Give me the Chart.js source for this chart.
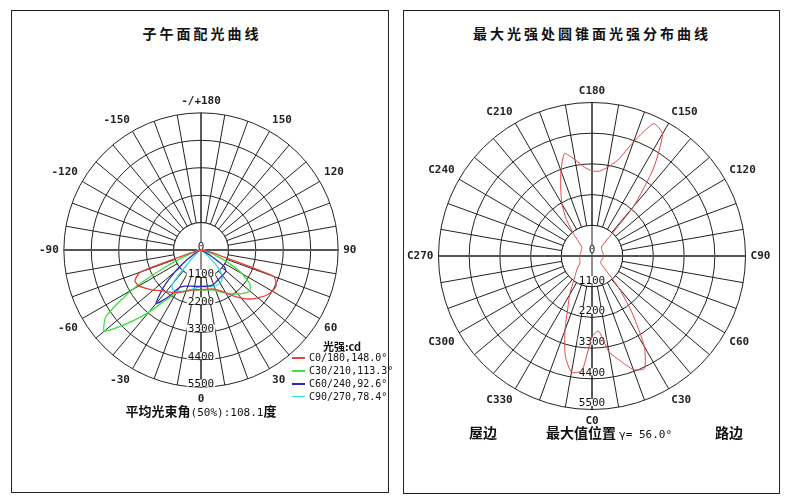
<!DOCTYPE html>
<html><head><meta charset="utf-8">
<script src="https://cdn.jsdelivr.net/npm/chart.js@4.4.1/dist/chart.umd.min.js"></script>
<style>
html,body{margin:0;padding:0;background:#fff;}
body{width:790px;height:503px;position:relative;overflow:hidden;font-family:'Noto Sans CJK SC','DejaVu Sans',sans-serif;color:#111;}
.panel{position:absolute;border:1px solid #222;box-sizing:border-box;}
.title{position:absolute;font-size:14px;font-weight:bold;letter-spacing:3px;white-space:nowrap;transform:translate(-50%,-50%);}
.box{position:absolute;}
.cap{position:absolute;white-space:nowrap;transform:translate(-50%,-50%);font-size:13px;font-weight:bold;}
.mono{font-family:'DejaVu Sans Mono',monospace;font-weight:normal;}
#legend{position:absolute;left:292px;top:340px;font-family:'DejaVu Sans Mono',monospace;font-size:10px;color:#111;}
#legend .hd{margin-left:31px;height:12px;line-height:12px;font-weight:bold;font-size:11px;font-family:'Noto Sans CJK SC','DejaVu Sans Mono',sans-serif;}
#legend .row{height:12.9px;line-height:12.9px;white-space:nowrap;}
#legend .sw{display:inline-block;width:13px;height:1.5px;vertical-align:middle;margin-right:4px;}
</style></head><body>
<div class="panel" style="left:11px;top:10px;width:378px;height:483px"></div>
<div class="panel" style="left:403px;top:10px;width:377px;height:484px"></div>
<div class="box" style="left:36px;top:88px;width:325px;height:325px"><canvas id="c1"></canvas></div>
<div class="box" style="left:404px;top:71px;width:370px;height:370px"><canvas id="c2"></canvas></div>
<div class="title" style="left:202px;top:33px">子午面配光曲线</div>
<div class="title" style="left:592px;top:33px">最大光强处圆锥面光强分布曲线</div>
<div class="cap" style="left:201px;top:410px">平均光束角<span class="mono" style="font-size:11px">(50%):108.1</span>度</div>
<div class="cap" style="left:483px;top:432px;font-size:14px">屋边</div>
<div class="cap" style="left:609px;top:432px;font-size:14px">最大值位置 <span class="mono" style="font-size:11px">γ= 56.0°</span></div>
<div class="cap" style="left:729px;top:432px;font-size:14px">路边</div>
<div id="legend"><div class="hd">光强:cd</div></div>
<script>
// ---------- data ----------
const radialTicks = [0, 1100, 2200, 3300, 4400, 5500];
const meridianAngleTicks = ['-/+180','150','120','90','60','30','0','-30','-60','-90','-120','-150'];
const coneAngleTicks = ['C180','C150','C120','C90','C60','C30','C0','C330','C300','C270','C240','C210'];

// gamma angles (deg) of the meridian curves, lower hemisphere
const gammaAngles = [-90,-85,-80,-75,-70,-65,-60,-55,-50,-45,-40,-35,-30,-25,-20,-15,-10,-5,0,5,10,15,20,25,30,35,40,45,50,55,60,65,70,75,80,85,90];
const seriesNames = ['C0/180,148.0°','C30/210,113.3°','C60/240,92.6°','C90/270,78.4°'];
const seriesColors = ['#e8403c','#3fe03f','#2a2ab4','#30d8e8'];
const c0_180   = [0,40,100,300,2600,2920,2880,2680,2500,2300,2180,2070,1970,1860,1760,1680,1620,1600,1590,1590,1600,1620,1680,1800,1980,2250,2520,2780,2980,3180,3300,3330,3100,600,200,80,0];
const c30_210  = [0,30,80,200,500,1450,3200,4650,5060,4150,3250,2450,2000,1850,1750,1680,1640,1610,1600,1600,1620,1660,1740,1850,2000,2150,2300,2450,2550,2400,1900,1200,600,250,100,40,0];
const c60_240  = [0,0,30,60,100,150,300,700,1350,2150,2800,2300,1750,1600,1540,1500,1480,1470,1460,1460,1470,1480,1470,1420,1380,1350,1330,1330,1300,1100,400,150,50,20,0,0,0];
const c90_270  = [0,0,0,0,20,40,80,150,300,700,1800,1950,1900,1830,1750,1650,1560,1500,1470,1480,1500,1520,1540,1550,1530,1450,1300,900,300,100,40,10,0,0,0,0,0];

// cone at gamma = 56 deg : C angle -> intensity
const cAngles = [0,5,10,15,20,25,30,35,40,45,50,55,60,65,70,75,80,85,90,95,100,105,110,115,120,125,130,135,140,145,150,155,160,165,170,175,180,185,190,195,200,205,210,215,220,225,230,235,240,245,250,255,260,265,270,275,280,285,290,295,300,305,310,315,320,325,330,335,340,345,350,355];
const coneIntensity = [2900,2700,3480,3880,4330,4450,3750,2540,1500,650,420,380,370,370,380,390,400,410,410,410,410,410,400,400,410,420,440,500,2300,3850,5050,5230,4350,3550,3230,3050,3050,3200,3500,3800,3250,2650,2150,1600,1000,600,470,450,440,430,420,420,420,420,430,440,450,455,460,480,500,560,680,800,950,1200,1600,2050,2830,3700,4230,4120];

// ---------- build radar categories (clockwise from top, 5 deg steps) ----------
const meridianLabels = [], coneLabels = [];
for (let i = 0; i < 72; i++) {
  meridianLabels.push(180 - 5 * i);
  coneLabels.push(((180 - 5 * i) % 360 + 360) % 360);
}
function mapMeridian(arr) {
  return meridianLabels.map(a => { const k = gammaAngles.indexOf(a); return k >= 0 ? arr[k] : null; });
}
function mapCone(arr) {
  return coneLabels.map(c => arr[cAngles.indexOf(c)]);
}

const polarExtras = {
  id: 'polarExtras',
  beforeDatasetsDraw(chart, args, opts) {
    const s = chart.scales.r, ctx = chart.ctx;
    const cx = s.xCenter, cy = s.yCenter, R = s.drawingArea;
    const r1 = s.getDistanceFromCenterForValue(radialTicks[1]);
    ctx.save();
    ctx.beginPath(); ctx.arc(cx, cy, r1, 0, Math.PI * 2); ctx.fillStyle = '#fff'; ctx.fill();
    ctx.strokeStyle = '#222'; ctx.lineWidth = 1;
    ctx.beginPath(); ctx.arc(cx, cy, r1, 0, Math.PI * 2); ctx.stroke();
    ctx.beginPath(); ctx.moveTo(cx, cy - R); ctx.lineTo(cx, cy + R); ctx.stroke();
    ctx.strokeStyle = '#555'; ctx.lineWidth = 2;
    ctx.beginPath(); ctx.moveTo(cx - R, cy); ctx.lineTo(cx + R, cy); ctx.stroke();
    ctx.font = "11px 'DejaVu Sans Mono', monospace";
    ctx.textAlign = 'center'; ctx.textBaseline = 'middle';
    radialTicks.forEach(v => {
      const d = s.getDistanceFromCenterForValue(v);
      const y = cy + d - opts.lift;
      const w = ctx.measureText(String(v)).width;
      ctx.fillStyle = '#fff';
      ctx.fillRect(cx - w / 2 - 1, y - 4.5, w + 2, 7);
      ctx.fillStyle = '#111';
      ctx.fillText(String(v), cx, y);
    });
    ctx.restore();
  }
};

function makeChart(id, labels, datasets, angleTicks, lift, lw) {
  return new Chart(document.getElementById(id), {
    type: 'radar',
    data: { labels, datasets: datasets.map(d => ({
      label: d.label, data: d.data, borderColor: d.color, backgroundColor: d.color,
      borderWidth: lw, fill: false, pointRadius: 0, pointHoverRadius: 0, tension: 0.2, spanGaps: false
    })) },
    options: {
      responsive: true, maintainAspectRatio: false, animation: false,
      layout: { padding: 0 },
      plugins: { legend: { display: false }, tooltip: { enabled: false }, polarExtras: { lift } },
      scales: { r: {
        min: radialTicks[0], max: radialTicks[radialTicks.length - 1],
        startAngle: 0,
        ticks: { display: false, stepSize: radialTicks[1] - radialTicks[0] },
        grid: { circular: true, color: '#222', lineWidth: 1 },
        angleLines: { display: true, color: '#222', lineWidth: ctx => (ctx.index % 2 === 0 ? 1 : 0) },
        pointLabels: {
          display: true, padding: 5, color: '#222',
          font: { family: "'DejaVu Sans Mono', monospace", size: 11, weight: 'bold' },
          callback: (lab, i) => (i % 6 === 0 ? angleTicks[i / 6] : '')
        }
      } }
    },
    plugins: [polarExtras]
  });
}

const leftSets = [c0_180, c30_210, c60_240, c90_270].map((arr, k) => ({ label: seriesNames[k], color: seriesColors[k], data: mapMeridian(arr) }));
makeChart('c1', meridianLabels, leftSets, meridianAngleTicks, 3, 1.3);
makeChart('c2', coneLabels, [{ label: 'γ=56.0°', color: '#e04848', data: mapCone(coneIntensity) }], coneAngleTicks, 6, 1);

const lg = document.getElementById('legend');
seriesNames.forEach((n, k) => {
  const row = document.createElement('div'); row.className = 'row';
  row.innerHTML = '<span class="sw" style="background:' + seriesColors[k] + '"></span>' + n;
  lg.appendChild(row);
});
</script>
</body></html>
